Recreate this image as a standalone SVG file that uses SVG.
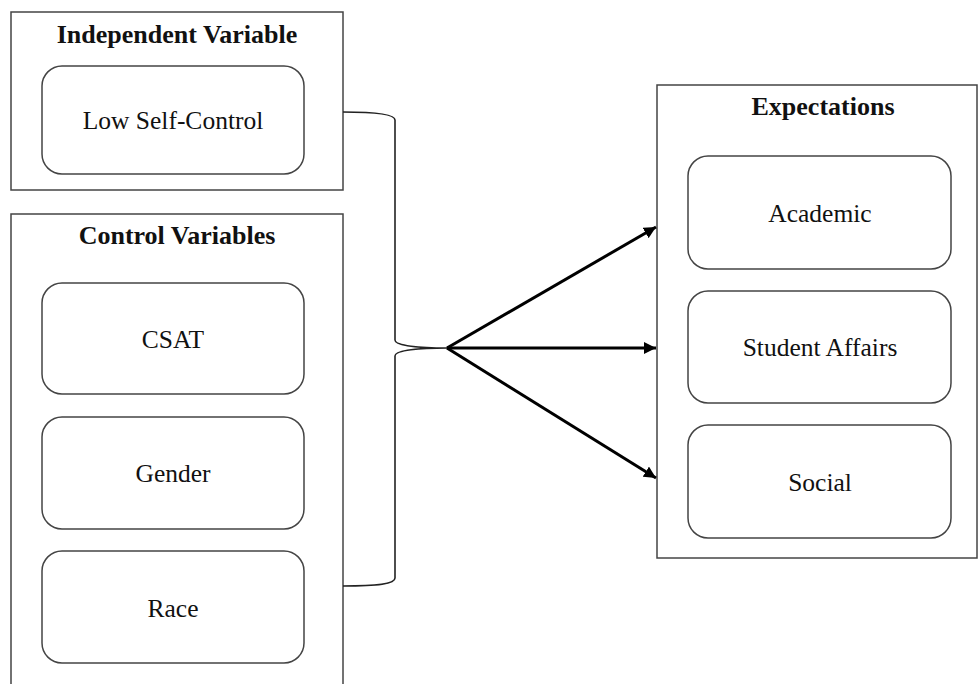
<svg xmlns="http://www.w3.org/2000/svg" width="978" height="684" viewBox="0 0 978 684">
<style>
.frame{fill:#fff;stroke:#444;stroke-width:1.5}
.node{fill:#fff;stroke:#444;stroke-width:1.5}
.title{font-family:"Liberation Serif","Times New Roman",serif;font-weight:bold;font-size:26px;fill:#111;text-anchor:middle}
.label{font-family:"Liberation Serif","Times New Roman",serif;font-size:25.5px;fill:#111;text-anchor:middle}
.brace{fill:none;stroke:#222;stroke-width:1.6}
.arrow{fill:none;stroke:#000;stroke-width:3}
</style>
<defs>
<marker id="ah" viewBox="0 0 10 10" refX="10" refY="5" markerWidth="4" markerHeight="4" orient="auto" markerUnits="strokeWidth">
<path d="M0,0 L10,5 L0,10 z" fill="#000"/>
</marker>
</defs>
<rect width="978" height="684" fill="#fff"/>
<g id="independent">
<rect class="frame" x="11" y="12" width="332" height="178"/>
<text class="title" x="177" y="43">Independent Variable</text>
</g>
<g id="low-self-control">
<rect class="node" x="42" y="66" width="262" height="108" rx="20"/>
<text class="label" x="173" y="129">Low Self-Control</text>
</g>
<g id="control">
<rect class="frame" x="11" y="214" width="332" height="490"/>
<text class="title" x="177" y="244">Control Variables</text>
</g>
<g id="csat">
<rect class="node" x="42" y="283" width="262" height="111" rx="20"/>
<text class="label" x="173" y="348">CSAT</text>
</g>
<g id="gender">
<rect class="node" x="42" y="417" width="262" height="112" rx="20"/>
<text class="label" x="173" y="482">Gender</text>
</g>
<g id="race">
<rect class="node" x="42" y="551" width="262" height="112" rx="20"/>
<text class="label" x="173" y="617">Race</text>
</g>
<g id="expectations">
<rect class="frame" x="657" y="85" width="320" height="473"/>
<text class="title" x="823" y="115">Expectations</text>
</g>
<g id="academic">
<rect class="node" x="688" y="156" width="263" height="113" rx="20"/>
<text class="label" x="820" y="222">Academic</text>
</g>
<g id="student-affairs">
<rect class="node" x="688" y="291" width="263" height="112" rx="20"/>
<text class="label" x="820" y="356">Student Affairs</text>
</g>
<g id="social">
<rect class="node" x="688" y="425" width="263" height="113" rx="20"/>
<text class="label" x="820" y="491">Social</text>
</g>
<g id="connectors">
<path class="brace" d="M343,112 C378,112 395,115 395,120 V340 C395,346 420,348 447,348 C420,348 395,350 395,356 V578 C395,584 378,586 343,586"/>
<line class="arrow" x1="447" y1="348" x2="656" y2="227" marker-end="url(#ah)"/>
<line class="arrow" x1="447" y1="348" x2="656" y2="348" marker-end="url(#ah)"/>
<line class="arrow" x1="447" y1="348" x2="656" y2="478" marker-end="url(#ah)"/>
</g>
</svg>
